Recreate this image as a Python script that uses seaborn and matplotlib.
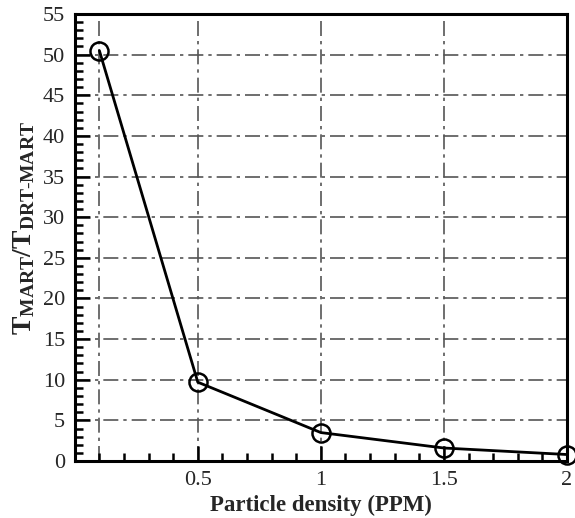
import matplotlib
matplotlib.use("Agg")
import matplotlib.pyplot as plt
from matplotlib.ticker import MultipleLocator
import seaborn as sns
import pandas as pd

# Particle density (PPM) and computational time ratio MART / DRT-MART
density = [0.1, 0.5, 1.0, 1.5, 2.0]
time_ratio = [50.5, 9.7, 3.5, 1.6, 0.8]
x_grid = [0.1, 0.5, 1.0, 1.5]
y_grid = [5, 10, 15, 20, 25, 30, 35, 40, 45, 50]

sns.set_style("white")
plt.rcParams["font.family"] = ["Liberation Serif", "DejaVu Serif"]
plt.rcParams["mathtext.fontset"] = "custom"
plt.rcParams["mathtext.rm"] = "Liberation Serif"
plt.rcParams["mathtext.bf"] = "Liberation Serif:bold"

df = pd.DataFrame({"density": density, "ratio": time_ratio})

fig = plt.figure(figsize=(5.75, 5.18), dpi=100)
ax = fig.add_axes([0.130, 0.110, 0.856, 0.863])

for xv in x_grid:
    ax.axvline(xv, color="#555555", lw=1.2, ls=(0, (9, 3, 2, 3)), zorder=0)
for yv in y_grid:
    ax.axhline(yv, color="#555555", lw=1.2, ls=(0, (9, 3, 2, 3)), zorder=0)

sns.lineplot(data=df, x="density", y="ratio", ax=ax, color="black", lw=2.0,
             marker="o", markersize=13, markerfacecolor="none",
             markeredgecolor="black", markeredgewidth=1.8, clip_on=False, zorder=3)

ax.set_xlim(0, 2)
ax.set_ylim(0, 55)
ax.xaxis.set_major_locator(MultipleLocator(0.5))
ax.xaxis.set_minor_locator(MultipleLocator(0.1))
ax.yaxis.set_major_locator(MultipleLocator(5))
ax.yaxis.set_minor_locator(MultipleLocator(1))
ax.set_xticks([0.5, 1.0, 1.5, 2.0])
ax.set_xticklabels(["0.5", "1", "1.5", "2"])

ax.tick_params(which="both", direction="in", bottom=True, left=True,
               top=False, right=False, labelsize=16, width=1.8,
               color="black", pad=7)
ax.tick_params(which="major", length=11)
ax.tick_params(which="minor", length=6)

for side in ["left", "bottom", "top", "right"]:
    ax.spines[side].set_visible(True)
    ax.spines[side].set_color("black")
    ax.spines[side].set_linewidth(2.2)

ax.set_xlabel("Particle density (PPM)", fontsize=16.5, fontweight="bold", labelpad=3.5)
ax.set_ylabel(r"$\mathbf{T_{MART}/T_{DRT\text{-}MART}}$", fontsize=20, labelpad=4)
ax.yaxis.label.set_y(0.52)

fig.savefig("out.png", dpi=100)
